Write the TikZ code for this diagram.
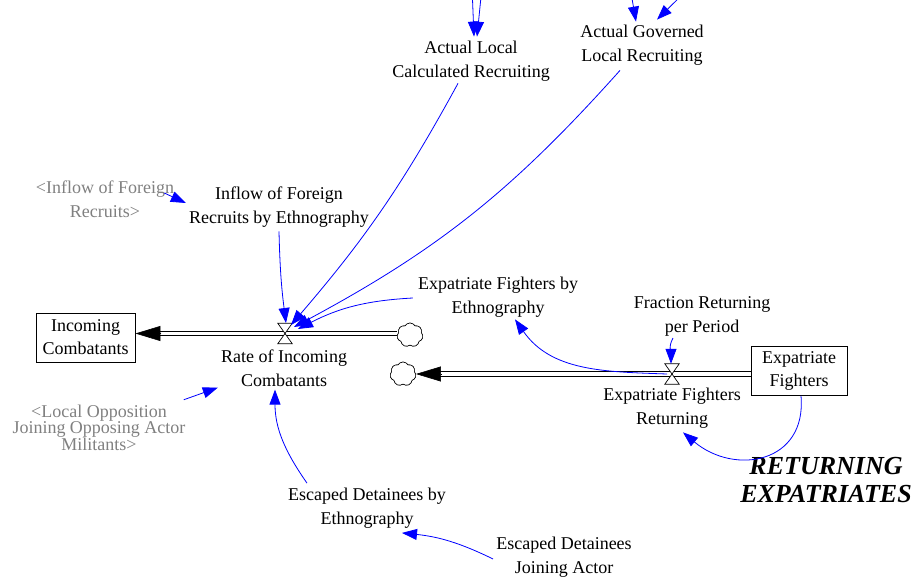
\documentclass[tikz,border=0pt]{standalone}
\usepackage{fontspec}
\setmainfont{Liberation Serif}
\usetikzlibrary{arrows.meta,shapes.symbols,calc}
\begin{document}
\begin{tikzpicture}[x=1pt,y=1pt,
  lbl/.style={align=center,inner sep=0pt,font=\fontsize{18}{24}\selectfont},
  ghost/.style={lbl,text=black!50},
  stock/.style={draw,line width=0.9pt,align=center,inner sep=0pt,minimum height=49pt,font=\fontsize{18}{23}\selectfont},
  link/.style={draw=blue,line width=0.8pt,-{Triangle[length=15pt,width=11pt]}},
  pipe/.style={double distance=3.6pt,line width=1.1pt},
  pipetip/.style={line width=0.6pt,-{Triangle[length=25pt,width=15pt]}},
  valvebox/.style={minimum width=14pt,minimum height=20pt,inner sep=0pt},
  cloudy/.style={cloud,cloud puffs=7,cloud puff arc=120,draw,fill=white,line width=0.6pt,minimum width=26pt,minimum height=24pt,inner sep=0pt},
  valvestyle/.style={fill=white,line width=0.7pt}
]
\useasboundingbox (0,0) rectangle (915,579);

% stocks, valves, clouds
\node[stock,minimum width=99pt] (icb) at (85.5,241.5) {Incoming\\Combatants};
\node[stock,minimum width=96pt] (ef) at (799,208) {Expatriate\\Fighters};
\node[valvebox] (v1) at (285,245.5) {};
\node[valvebox] (v2) at (672,205) {};
\node[cloudy] (c1) at (410,244) {};
\node[cloudy] (c2) at (403,205) {};

% pipes
\draw[pipe] (c1.west |- v1) -- ($(icb.east |- v1)+(24,0)$);
\draw[pipetip] ($(icb.east |- v1)+(26,0)$) -- (icb.east |- v1);
\draw[pipe] (ef.west |- v2) -- ($(c2.east |- v2)+(24,0)$);
\draw[pipetip] ($(c2.east |- v2)+(26,0)$) -- (c2.east |- v2);
\node[cloudy] at (c1) {};
\node[cloudy] at (c2) {};
\draw[valvestyle] (v1.north west) -- (v1.north east) -- (v1.south west) -- (v1.south east) -- cycle;
\draw[valvestyle] (v2.north west) -- (v2.north east) -- (v2.south west) -- (v2.south east) -- cycle;

% labels
\node[lbl] (alc) at (471,518) {Actual Local\\Calculated Recruiting};
\node[lbl] (agl) at (642,534) {Actual Governed\\Local Recruiting};
\node[ghost] (ifr) at (105,379.5) {<Inflow of Foreign\\Recruits>};
\node[lbl] (ifre) at (279,372) {Inflow of Foreign\\Recruits by Ethnography};
\node[lbl] (rate) at (284,211) {Rate of Incoming\\Combatants};
\node[ghost,font=\fontsize{18}{16}\selectfont] (lo) at (99,151) {<Local Opposition\\Joining Opposing Actor\\Militants>};
\node[lbl] (ede) at (367,70.5) {Escaped Detainees by\\Ethnography};
\node[lbl] (edj) at (564,21.5) {Escaped Detainees\\Joining Actor};
\node[lbl] (efe) at (498,282) {Expatriate Fighters by\\Ethnography};
\node[lbl] (frp) at (702,262.5) {Fraction Returning\\per Period};
\node[lbl] (efr) at (672,171) {Expatriate Fighters\\Returning};
\node[align=center,inner sep=0pt,font=\fontsize{26}{28}\selectfont\bfseries\itshape] (title) at (826,99) {RETURNING\\EXPATRIATES};

% off-picture sources
\coordinate (t1) at (472,592);
\coordinate (t2) at (482,592);
\coordinate (t3) at (630,592);
\coordinate (t4) at (690,592);

% links
\draw[link] (t1) -- ([xshift=3pt,yshift=4pt]alc.north);
\draw[link] (t2) -- ([xshift=6pt,yshift=4pt]alc.north);
\draw[link] (t3) -- ([xshift=-6pt,yshift=3pt]agl.north);
\draw[link] (t4) -- ([xshift=15pt,yshift=5pt]agl.north);
\draw[link] ([xshift=-10pt,yshift=6.5pt]ifr.east) -- ([xshift=-3pt,yshift=4pt]ifre.west);
\draw[link] ([yshift=-4pt]ifre.south) to[bend right=3] ([xshift=1pt,yshift=10.5pt]v1.center);
\draw[link] ([xshift=-13pt,yshift=-2pt]alc.south) to[bend left=6] ([xshift=6pt,yshift=8.5pt]v1.center);
\draw[link] ([xshift=-22pt,yshift=-5pt]agl.south) to[bend left=10] ([xshift=9pt,yshift=6.5pt]v1.center);
\draw[link] ([xshift=-5pt,yshift=-1pt]efe.west) to[bend right=12] ([xshift=13pt,yshift=4.5pt]v1.center);
\draw[link] ([xshift=-2pt,yshift=5pt]lo.north east) -- ([xshift=-3pt,yshift=-1pt]rate.south west);
\draw[link] ([xshift=-60pt,yshift=5pt]ede.north) to[out=125,in=-90] ([xshift=-9pt,yshift=-3pt]rate.south);
\draw[link] ([xshift=-3pt,yshift=-1.5pt]edj.west) to[bend right=10] ([xshift=35pt,yshift=-4pt]ede.south);
\draw[link] ([xshift=-29pt,yshift=-1.5pt]frp.south) to[out=-120,in=90] ([xshift=-1pt]v2.north);
\draw[link] ([xshift=-5pt]v2.center) to[out=178,in=-55] ([xshift=17pt,yshift=-2pt]efe.south);
\draw[link] ([xshift=2pt]ef.south) to[out=-85,in=-40,looseness=1.4] ([xshift=11pt,yshift=-4pt]efr.south);
\end{tikzpicture}
\end{document}
